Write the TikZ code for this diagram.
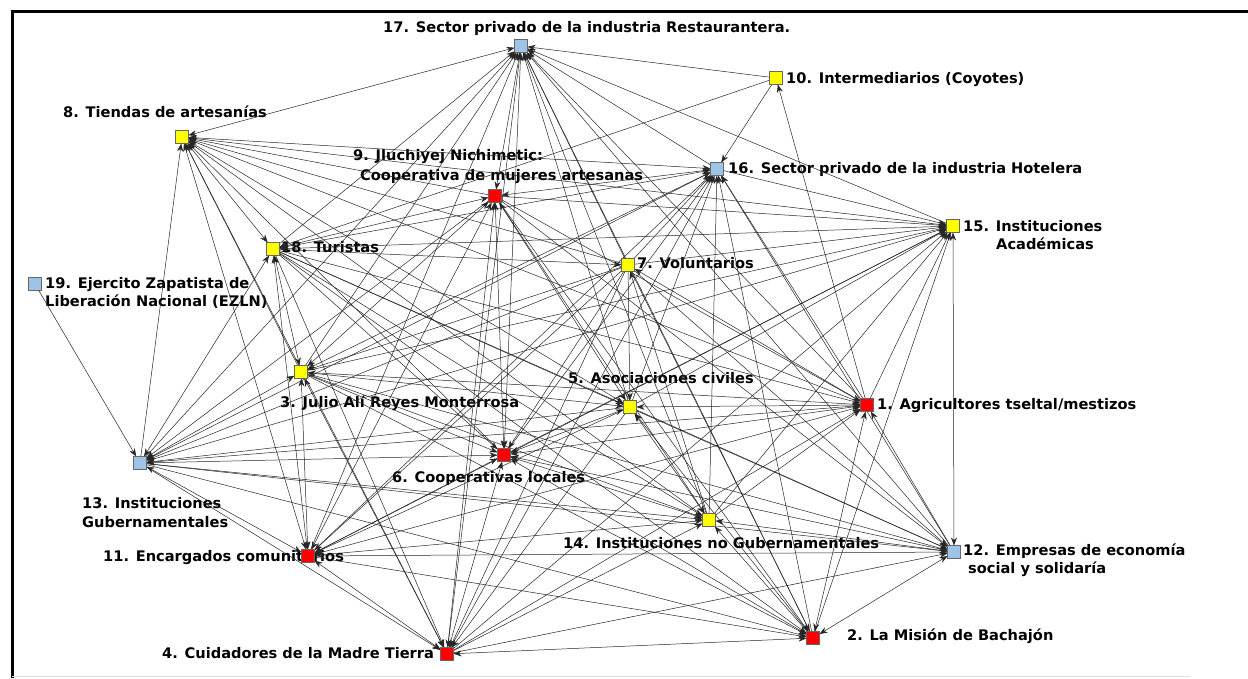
\documentclass[tikz,border=0pt]{standalone}
\usepackage{fontspec}
\setmainfont{DejaVu Sans}
\usetikzlibrary{arrows.meta}
\pgfdeclarelayer{bg}
\pgfdeclarelayer{labels}
\pgfdeclarelayer{edges}
\pgfsetlayers{bg,labels,edges,main}
\definecolor{nblue}{RGB}{157,195,230}
\definecolor{nyellow}{RGB}{255,255,0}
\definecolor{nred}{RGB}{255,0,0}
\tikzset{
  actor/.style={draw=black!60, line width=0.5pt, minimum size=13pt, inner sep=0pt, outer sep=0pt},
  bnode/.style={actor, fill=nblue},
  ynode/.style={actor, fill=nyellow},
  rnode/.style={actor, fill=nred},
  lab/.style={anchor=base west, inner sep=0pt, font=\fontsize{14.6}{17}\selectfont\bfseries},
  link/.style={draw=black!85, line width=0.5pt},
  bi/.style={link, {Stealth[length=8pt,width=6pt]}-{Stealth[length=8pt,width=6pt]}},
  fw/.style={link, -{Stealth[length=8pt,width=6pt]}},
}
\begin{document}
\begin{tikzpicture}[x=1pt,y=-1pt]
\useasboundingbox (0,0) rectangle (1248,678);
\begin{pgfonlayer}{bg}
\fill[white] (0,0) rectangle (1248,678);
\draw[line width=3pt] (12,678) -- (12,11) -- (1248,11);
\draw[black!12, line width=1pt] (12,676) -- (1190,676);
\end{pgfonlayer}

% actors
\node[rnode] (n1) at (867,405) {};
\node[rnode] (n2) at (813,638) {};
\node[ynode] (n3) at (301,372) {};
\node[rnode] (n4) at (447,654) {};
\node[ynode] (n5) at (630,407) {};
\node[rnode] (n6) at (504,455) {};
\node[ynode] (n7) at (628,265) {};
\node[ynode] (n8) at (182,137) {};
\node[rnode] (n9) at (495,196) {};
\node[ynode] (n10) at (776,78) {};
\node[rnode] (n11) at (308,556) {};
\node[bnode] (n12) at (954,552) {};
\node[bnode] (n13) at (140,463) {};
\node[ynode] (n14) at (709,520) {};
\node[ynode] (n15) at (953,226) {};
\node[bnode] (n16) at (717,169) {};
\node[bnode] (n17) at (521,46) {};
\node[ynode] (n18) at (273,249) {};
\node[bnode] (n19) at (35,284) {};

% labels
\begin{pgfonlayer}{labels}
\node[lab] (t17) at (383,32) {17. Sector privado de la industria Restaurantera.};
\node[lab] (t10) at (786,83) {10. Intermediarios (Coyotes)};
\node[lab] (t8) at (63,117) {8. Tiendas de artesanías};
\node[lab] (t9a) at (353,160) {9. Jluchiyej Nichimetic:};
\node[lab] (t9b) at (360,180) {Cooperativa de mujeres artesanas};
\node[lab] (t16) at (728,173) {16. Sector privado de la industria Hotelera};
\node[lab] (t15a) at (963,231) {15. Instituciones};
\node[lab] (t15b) at (996,249) {Académicas};
\node[lab] (t18) at (281,252) {18. Turistas};
\node[lab] (t7) at (637,268) {7. Voluntarios};
\node[lab] (t19a) at (45,288) {19. Ejercito Zapatista de};
\node[lab] (t19b) at (45,306) {Liberación Nacional (EZLN)};
\node[lab] (t5) at (568,383) {5. Asociaciones civiles};
\node[lab] (t3) at (280,407) {3. Julio Alí Reyes Monterrosa};
\node[lab] (t1) at (877,409) {1. Agricultores tseltal/mestizos};
\node[lab] (t6) at (392,482) {6. Cooperativas locales};
\node[lab] (t13a) at (82,508) {13. Instituciones};
\node[lab] (t13b) at (82,527) {Gubernamentales};
\node[lab] (t14) at (563,548) {14. Instituciones no Gubernamentales};
\node[lab] (t12a) at (963,555) {12. Empresas de economía};
\node[lab] (t12b) at (968,573) {social y solidaría};
\node[lab] (t11) at (103,561) {11. Encargados comunitarios};
\node[lab] (t2) at (847,640) {2. La Misión de Bachajón};
\node[lab] (t4) at (162,658) {4. Cuidadores de la Madre Tierra};
\end{pgfonlayer}

% ties
\begin{pgfonlayer}{edges}
\foreach \a/\b/\s in {
  8/17/bi, 18/17/fw, 3/17/fw, 13/17/fw, 11/17/fw, 9/17/bi, 6/17/bi, 4/17/fw,
  7/17/fw, 5/17/fw, 14/17/fw, 2/17/fw, 1/17/fw, 16/17/fw, 15/17/fw, 12/17/fw, 10/17/fw,
  13/8/fw, 18/8/bi, 3/8/fw, 11/8/bi, 6/8/fw, 5/8/bi, 7/8/fw, 9/8/fw, 16/8/bi,
  15/8/bi, 1/8/fw, 14/8/fw, 4/8/fw,
  18/16/bi, 3/16/bi, 13/16/bi, 11/16/fw, 6/16/fw, 5/16/fw, 7/16/fw, 9/16/bi,
  16/15/fw, 1/16/fw, 14/16/fw, 4/16/fw, 2/16/fw, 12/16/fw, 10/16/fw,
  9/18/bi, 9/3/bi, 9/11/bi, 9/6/bi, 9/5/bi, 9/15/fw, 9/1/fw, 9/14/fw, 9/4/bi,
  9/2/fw, 9/12/fw, 9/13/fw,
  18/15/bi, 3/15/fw, 13/15/fw, 11/15/fw, 6/15/fw, 5/15/fw, 7/15/fw, 1/15/fw,
  14/15/fw, 4/15/fw, 2/15/fw, 15/12/bi,
  18/3/bi, 18/13/bi, 18/11/bi, 18/6/fw, 18/5/fw, 18/7/fw, 18/1/fw, 18/14/fw,
  18/4/fw, 18/2/fw, 18/12/fw, 10/18/fw,
  3/13/bi, 3/11/bi, 3/6/fw, 3/5/bi, 7/3/fw, 3/1/fw, 3/14/fw, 3/4/bi, 3/2/fw, 3/12/fw,
  7/13/fw, 7/11/fw, 7/6/fw, 7/5/fw, 1/7/fw, 14/7/fw, 7/4/fw, 7/2/fw, 7/12/fw,
  5/13/fw, 5/11/fw, 5/6/bi, 5/1/bi, 14/5/bi, 5/4/fw, 2/5/fw, 5/12/fw,
  6/13/bi, 6/11/bi, 6/1/bi, 6/14/bi, 6/4/bi, 2/6/fw, 12/6/fw,
  13/1/fw, 11/1/bi, 14/1/fw, 4/1/fw, 2/1/bi, 12/1/fw, 1/10/fw,
  13/14/fw, 11/14/bi, 4/14/fw, 2/14/fw, 12/14/fw,
  19/13/fw, 13/11/bi, 13/4/fw, 13/2/fw, 13/12/fw,
  11/4/bi, 11/2/fw, 11/12/fw,
  4/2/bi, 4/12/fw, 2/12/bi}
  \draw[\s] (n\a) -- (n\b);
\end{pgfonlayer}
\end{tikzpicture}
\end{document}
